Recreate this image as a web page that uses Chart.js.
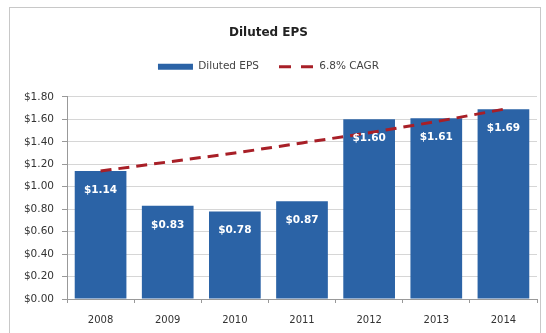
<!DOCTYPE html>
<html>
<head>
<meta charset="utf-8">
<style>
  html, body { margin: 0; padding: 0; background: #fff; }
  #wrap { position: relative; width: 546px; height: 333px; }
</style>
</head>
<body>
<div id="wrap"><canvas id="chart1"></canvas></div>
<script src="https://cdn.jsdelivr.net/npm/chart.js@4"></script>
<script>
  const years = ['2008', '2009', '2010', '2011', '2012', '2013', '2014']
  const eps = [1.14, 0.83, 0.78, 0.87, 1.6, 1.61, 1.69]
  const cagr = [1.14, 1.22, 1.3, 1.39, 1.48, 1.58, 1.69]
  const yTicks = [0, 0.2, 0.4, 0.6, 0.8, 1.0, 1.2, 1.4, 1.6, 1.8]

  const font = '"DejaVu Sans", sans-serif'
  const blue = '#2b63a6'
  const red = '#a81f27'

  // outer gray frame like the excel chart border
  const frame = {
    id: 'frame',
    beforeDraw(chart) {
      const ctx = chart.ctx
      ctx.save()
      ctx.strokeStyle = '#c8c8c8'
      ctx.lineWidth = 1
      ctx.strokeRect(9.5, 7.5, 531, 340)
      ctx.restore()
    }
  }

  // white value labels inside top of each bar
  const barLabels = {
    id: 'barLabels',
    afterDatasetsDraw(chart) {
      const ctx = chart.ctx
      const meta = chart.getDatasetMeta(0)
      ctx.save()
      ctx.fillStyle = '#fff'
      ctx.font = 'bold 10.5px ' + font
      ctx.textAlign = 'center'
      ctx.textBaseline = 'middle'
      meta.data.forEach((bar, i) => {
        ctx.fillText('$' + eps[i].toFixed(2), bar.x, bar.y + 19)
      })
      ctx.restore()
    }
  }

  new Chart(document.getElementById('chart1'), {
    type: 'bar',
    data: {
      labels: years,
      datasets: [
        {
          label: 'Diluted EPS',
          data: eps,
          backgroundColor: blue,
          borderWidth: 0,
          categoryPercentage: 1,
          barPercentage: 0.77,
          order: 2
        },
        {
          type: 'line',
          label: '6.8% CAGR',
          data: cagr,
          borderColor: red,
          backgroundColor: red,
          borderWidth: 3,
          borderDash: [11, 7],
          pointRadius: 0,
          pointStyle: 'line',
          order: 1
        }
      ]
    },
    options: {
      responsive: true,
      maintainAspectRatio: false,
      animation: false,
      layout: { padding: { top: 26, left: 0, right: 9, bottom: 0 } },
      plugins: {
        title: {
          display: true,
          text: 'Diluted EPS',
          color: '#222',
          font: { family: font, size: 12, weight: 'bold' },
          padding: { top: 0, bottom: 1 }
        },
        legend: {
          display: true,
          labels: {
            usePointStyle: true,
            pointStyleWidth: 35,
            boxHeight: 6,
            color: '#444',
            padding: 20,
            font: { family: font, size: 10.5 },
            sort: (a, b) => a.datasetIndex - b.datasetIndex,
            generateLabels(chart) {
              const items = Chart.defaults.plugins.legend.labels.generateLabels(chart)
              items.forEach(it => {
                if (it.datasetIndex === 0) {
                  it.pointStyle = 'rect'
                  it.lineWidth = 0
                } else {
                  it.lineDash = [12, 10]
                  it.lineWidth = 3
                }
              })
              return items
            }
          }
        },
        tooltip: { enabled: false }
      },
      scales: {
        x: {
          afterFit(scale) { scale.height = 34 },
          grid: {
            display: true,
            drawOnChartArea: false,
            offset: true,
            tickLength: 4,
            tickColor: '#999'
          },
          border: { color: '#999' },
          ticks: {
            color: '#333',
            padding: 11,
            font: { family: font, size: 10 }
          }
        },
        // empty top axis, only used as spacing under the legend
        xTop: {
          type: 'category',
          position: 'top',
          grid: { display: false },
          border: { display: false },
          ticks: { display: false },
          afterFit(scale) { scale.height = 15 }
        },
        y: {
          min: 0,
          max: 1.8,
          afterFit(scale) { scale.width = 67 },
          afterBuildTicks(scale) {
            scale.ticks = yTicks.map(v => ({ value: v }))
          },
          grid: {
            color: '#d6d6d6',
            tickLength: 5,
            tickColor: '#999'
          },
          border: { color: '#999' },
          ticks: {
            color: '#333',
            padding: 8,
            font: { family: font, size: 10.5 },
            callback: v => '$' + Number(v).toFixed(2)
          }
        }
      }
    },
    plugins: [frame, barLabels]
  })
</script>
</body>
</html>
